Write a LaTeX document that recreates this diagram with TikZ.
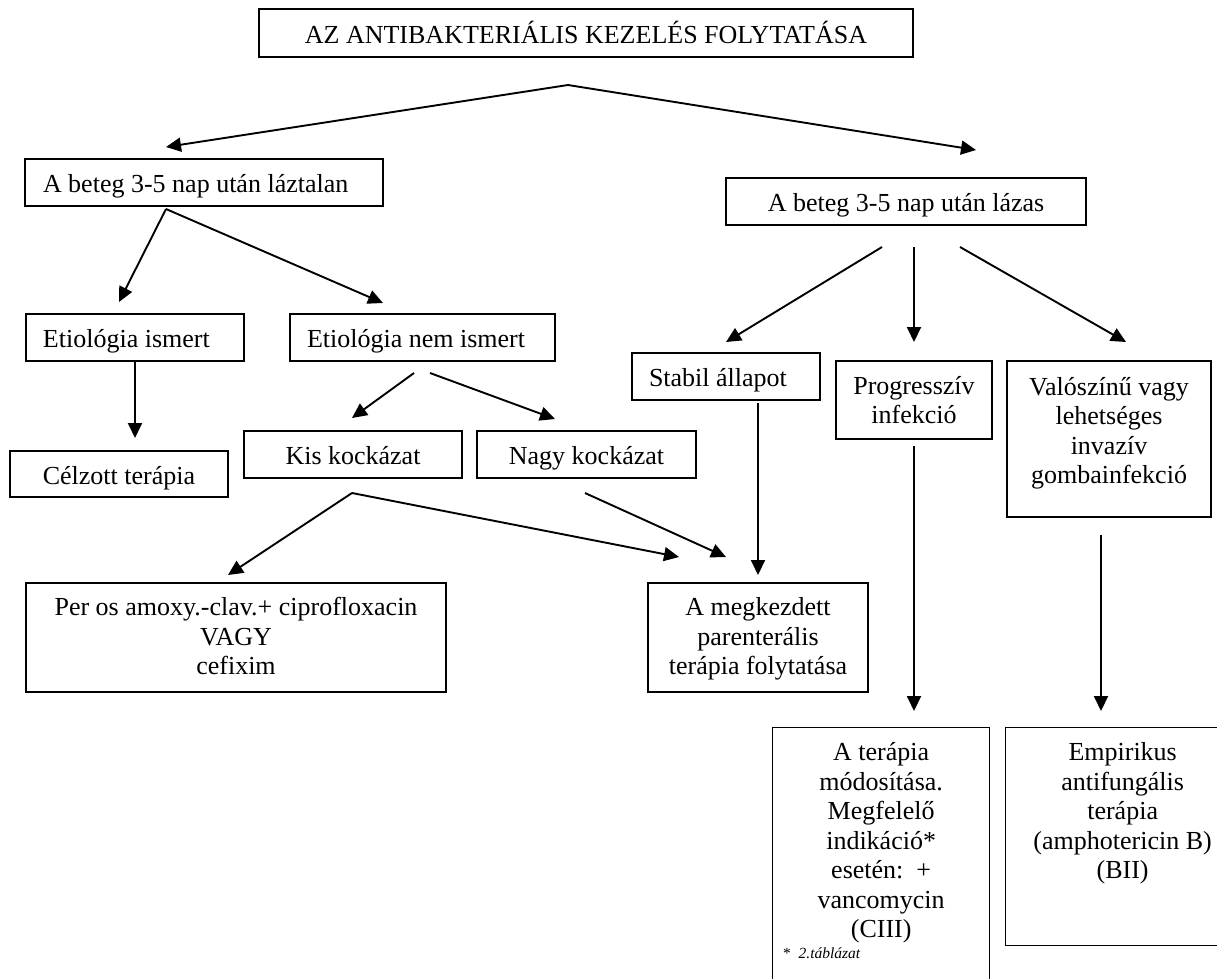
\documentclass[tikz,border=0pt]{standalone}
\usepackage{fontspec}
\setmainfont{Liberation Serif}
\usetikzlibrary{arrows.meta}
\newcommand{\boxtext}[4]{\parbox[c][#1][t]{#2}{\centering\vspace*{#3}\strut #4}}
\begin{document}
\begin{tikzpicture}[x=1pt,y=-1pt,
  box/.style={draw, line width=1.3pt, inner sep=0pt, font=\fontsize{26}{29.5}\selectfont},
  one/.style={box, text height=23pt, text depth=3pt},
  arr/.style={line width=1.9pt, -{Triangle[length=15pt,width=14pt]}},
  note/.style={font=\fontsize{15.5}{18}\selectfont, inner sep=0pt}]
\useasboundingbox[fill=white] (0,0) rectangle (1217,978);

% boxes
\node[one, minimum width=654pt, minimum height=48pt] (top) at (586,33) {AZ ANTIBAKTERIÁLIS KEZELÉS FOLYTATÁSA};
\node[one, minimum width=358pt, minimum height=47pt] (lazt) at (204,182.5) {\makebox[358pt][l]{\hspace*{18pt}A beteg 3-5 nap után láztalan}};
\node[one, minimum width=360pt, minimum height=47pt] (lazas) at (906,201.5) {A beteg 3-5 nap után lázas};
\node[one, minimum width=218pt, minimum height=47pt] (ism) at (135,337.5) {\makebox[218pt][l]{\hspace*{17pt}Etiológia ismert}};
\node[one, minimum width=265pt, minimum height=47pt] (nism) at (422.5,337.5) {\makebox[265pt][l]{\hspace*{17pt}Etiológia nem ismert}};
\node[one, minimum width=218pt, minimum height=46pt] (celz) at (119,474) {Célzott terápia};
\node[one, minimum width=218pt, minimum height=47pt] (kis) at (353,454.5) {Kis kockázat};
\node[one, minimum width=219pt, minimum height=47pt] (nagy) at (586.5,454.5) {Nagy kockázat};
\node[one, minimum width=188pt, minimum height=47pt] (stab) at (726,376.5) {\makebox[188pt][l]{\hspace*{17pt}Stabil állapot}};

\node[box] (peros) at (236,637.5) {\boxtext{109pt}{420pt}{12pt}{Per os amoxy.-clav.+ ciprofloxacin\\VAGY\\cefixim}};
\node[box] (megk) at (758,637.5) {\boxtext{109pt}{220pt}{12pt}{A megkezdett\\parenterális\\terápia folytatása}};
\node[box] (progr) at (914,400) {\boxtext{78pt}{156pt}{12.5pt}{Progresszív\\infekció}};
\node[box] (valo) at (1109,439) {\boxtext{156pt}{204pt}{13.5pt}{Valószínű vagy\\lehetséges\\invazív\\gombainfekció}};
\node[box, anchor=north west] (modos) at (772,727) {\boxtext{263pt}{217pt}{12.5pt}{A terápia\\módosítása.\\Megfelelő\\indikáció*\\esetén:\ \ +\\vancomycin\\(CIII)}};
\node[box, anchor=north west] (empir) at (1005,727) {\boxtext{218pt}{234pt}{12.5pt}{Empirikus\\antifungális\\terápia\\(amphotericin B)\\(BII)}};
\node[note, anchor=base west] (fn) at (783,958) {*\ \ \textit{2.táblázat}};

% connector end points
\coordinate (s0) at (568,85);
\coordinate (t0a) at (166,147);
\coordinate (t0b) at (976,150);
\coordinate (s1) at (166,209);
\coordinate (t1a) at (119,302);
\coordinate (t1b) at (383,303);
\coordinate (s2) at (135,362);
\coordinate (t2) at (135,438);
\coordinate (s3a) at (414,373);
\coordinate (t3a) at (352,418);
\coordinate (s3b) at (430,373);
\coordinate (t3b) at (555,419);
\coordinate (s4) at (352,493);
\coordinate (t4a) at (228,575);
\coordinate (t4b) at (679,557);
\coordinate (s5) at (585,493);
\coordinate (t5) at (726,557);
\coordinate (s6a) at (882,247);
\coordinate (t6a) at (726,342);
\coordinate (s6b) at (914,247);
\coordinate (t6b) at (914,342);
\coordinate (s6c) at (960,247);
\coordinate (t6c) at (1126,342);
\coordinate (s7) at (758,403);
\coordinate (t7) at (758,575);
\coordinate (s8) at (914,446);
\coordinate (t8) at (914,711);
\coordinate (s9) at (1101,535);
\coordinate (t9) at (1101,711);

% connectors
\draw[arr] (s0) -- (t0a);
\draw[arr] (s0) -- (t0b);
\draw[arr] (s1) -- (t1a);
\draw[arr] (s1) -- (t1b);
\draw[arr] (s2) -- (t2);
\draw[arr] (s3a) -- (t3a);
\draw[arr] (s3b) -- (t3b);
\draw[arr] (s4) -- (t4a);
\draw[arr] (s4) -- (t4b);
\draw[arr] (s5) -- (t5);
\draw[arr] (s6a) -- (t6a);
\draw[arr] (s6b) -- (t6b);
\draw[arr] (s6c) -- (t6c);
\draw[arr] (s7) -- (t7);
\draw[arr] (s8) -- (t8);
\draw[arr] (s9) -- (t9);
\end{tikzpicture}
\end{document}
